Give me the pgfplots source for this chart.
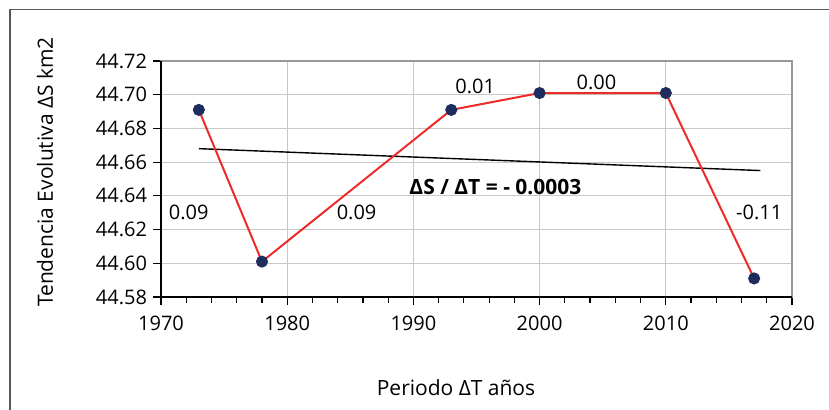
\documentclass[border=0pt]{standalone}
\usepackage{pgfplots}
\pgfplotsset{compat=1.18}
\usepackage{fontspec}
\setmainfont{Open Sans}

\definecolor{puntos}{HTML}{1F2C5E}
\definecolor{linea}{HTML}{EE2B2B}
\definecolor{rejilla}{HTML}{C8C8C8}

\begin{document}
\fontsize{10}{12}\selectfont
\begin{tikzpicture}
  \useasboundingbox (0,0) rectangle (414.5pt,-205pt);
  \draw[gray!70!black, line width=0.6pt] (5pt,-4.75pt) rectangle (440pt,-230pt);

  \begin{axis}[
      at={(80.5pt,-148.5pt)},
      anchor=south west,
      scale only axis,
      width=315.5pt,
      height=118pt,
      xmin=1970, xmax=2020,
      ymin=44.58, ymax=44.72,
      xtick={1970,1980,...,2020},
      ytick={44.58,44.60,...,44.72},
      minor x tick num=4,
      minor y tick num=4,
      tick align=outside,
      xtick pos=left,
      ytick pos=left,
      major tick length=4pt,
      minor tick length=3pt,
      tick style={black, line width=0.6pt},
      grid=major,
      major grid style={rejilla, line width=0.6pt},
      axis line style={gray!80, line width=1pt},
      ticklabel style={font=\fontsize{10}{12}\selectfont},
      /pgf/number format/assume math mode=true,
      xticklabel style={/pgf/number format/1000 sep={}, yshift=-2pt},
      yticklabel style={/pgf/number format/fixed, /pgf/number format/precision=2,
                        /pgf/number format/fixed zerofill, xshift=0.5pt},
      clip=false,
    ]
    \addplot[black, line width=0.7pt] coordinates {
      (1973, 44.668)
      (2017.5, 44.655)
    };
    \addplot[linea, line width=1pt, mark=*, mark size=2.5pt,
             mark options={puntos, draw=puntos, fill=puntos}] coordinates {
      (1973, 44.691)
      (1978, 44.601)
      (1993, 44.691)
      (2000, 44.701)
      (2010, 44.701)
      (2017, 44.591)
    };
    \node at (axis cs:1972.2,44.630) {0.09};
    \node at (axis cs:1985.5,44.630) {0.09};
    \node at (axis cs:1994.9,44.705) {0.01};
    \node at (axis cs:2004.5,44.7075) {0.00};
    \node at (axis cs:2017.4,44.630) {-0.11};
    \node[font=\fontsize{10.5}{12}\selectfont\bfseries] at (axis cs:1996.5,44.645) {ΔS / ΔT = - 0.0003};
    \draw[black, line width=1pt] (rel axis cs:0,1) -- (rel axis cs:0,0) -- (rel axis cs:1,0);
  \end{axis}

  \node[rotate=90, font=\fontsize{10.5}{12}\selectfont] at (22.5pt,-86pt) {Tendencia Evolutiva ΔS km2};
  \node[font=\fontsize{10.5}{12}\selectfont] at (228pt,-194pt) {Periodo ΔT años};
\end{tikzpicture}
\end{document}
